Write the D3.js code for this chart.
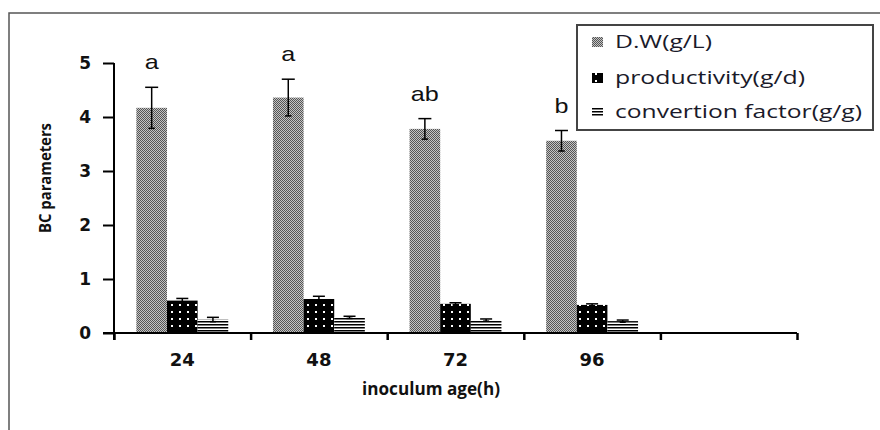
<!DOCTYPE html>
<html>
<head>
<meta charset="utf-8">
<script src="https://cdn.jsdelivr.net/npm/d3@7"></script>
<style>
  body { margin: 0; background: #fff; }
  svg { display: block; }
</style>
</head>
<body>
<div id="chart"></div>
<script>
// inoculum age groups (a 5th empty slot sits on the axis)
const categories = ["24", "48", "72", "96"];
const seriesNames = ["D.W(g/L)", "productivity(g/d)", "convertion factor(g/g)"];

// values
const dwValues = [4.17, 4.36, 3.78, 3.56];
const dwErrors = [0.38, 0.34, 0.19, 0.19];
const prodValues = [0.6, 0.63, 0.54, 0.52];
const prodErrors = [0.04, 0.05, 0.02, 0.02];
const convValues = [0.25, 0.29, 0.24, 0.22];
const convErrors = [0.04, 0.02, 0.02, 0.02];

// significance letters over the D.W bars
const sigLetters = ["a", "a", "ab", "b"];

const yTicks = [0, 1, 2, 3, 4, 5];

const W = 880, H = 430;
const plot = { left: 114, right: 797, top: 63, bottom: 333 };

const svg = d3.select("#chart").append("svg")
    .attr("width", W)
    .attr("height", H);

// fill patterns
const defs = svg.append("defs");

const pDW = defs.append("pattern")
    .attr("id", "pat-dw")
    .attr("patternUnits", "userSpaceOnUse")
    .attr("width", 2).attr("height", 2);
pDW.append("rect").attr("width", 2).attr("height", 2).attr("fill", "#c4c4c4");
pDW.append("rect").attr("width", 1).attr("height", 1).attr("fill", "#555");
pDW.append("rect").attr("x", 1).attr("y", 1).attr("width", 1).attr("height", 1).attr("fill", "#555");

const pProd = defs.append("pattern")
    .attr("id", "pat-prod")
    .attr("patternUnits", "userSpaceOnUse")
    .attr("width", 8).attr("height", 7);
pProd.append("rect").attr("width", 8).attr("height", 7).attr("fill", "#000");
pProd.append("rect").attr("x", 3).attr("y", 3).attr("width", 2).attr("height", 2).attr("fill", "#fff");

const pConv = defs.append("pattern")
    .attr("id", "pat-conv")
    .attr("patternUnits", "userSpaceOnUse")
    .attr("width", 4).attr("height", 3);
pConv.append("rect").attr("width", 4).attr("height", 3).attr("fill", "#fff");
pConv.append("rect").attr("width", 4).attr("height", 1.5).attr("fill", "#000");

const fills = ["url(#pat-dw)", "url(#pat-prod)", "url(#pat-conv)"];

// outer frame (runs past the right and bottom edges)
svg.append("rect")
    .attr("x", 9).attr("y", 13)
    .attr("width", 900).attr("height", 500)
    .attr("fill", "none")
    .attr("stroke", "#555")
    .attr("stroke-width", 1.5);

// scales
const slots = categories.concat([" "]);
const x0 = d3.scaleBand()
    .domain(slots)
    .range([plot.left, plot.right])
    .paddingInner(0)
    .paddingOuter(0);

const x1 = d3.scaleBand()
    .domain(seriesNames)
    .range([0, x0.bandwidth()])
    .paddingInner(0)
    .paddingOuter(0.73);

const y = d3.scaleLinear()
    .domain([0, 5])
    .range([plot.bottom, plot.top]);

// rows for drawing
const series = [
    { name: seriesNames[0], values: dwValues, errors: dwErrors },
    { name: seriesNames[1], values: prodValues, errors: prodErrors },
    { name: seriesNames[2], values: convValues, errors: convErrors }
];

const barData = [];
categories.forEach((c, i) => {
    series.forEach((s, j) => {
        barData.push({ cat: c, name: s.name, value: s.values[i], err: s.errors[i], k: j });
    });
});

// bars
svg.append("g").selectAll("rect")
    .data(barData)
    .enter()
    .append("rect")
    .attr("x", d => x0(d.cat) + x1(d.name))
    .attr("y", d => y(d.value))
    .attr("width", x1.bandwidth())
    .attr("height", d => y(0) - y(d.value))
    .attr("fill", d => fills[d.k]);

// error bars
const eb = svg.append("g")
    .attr("stroke", "#000")
    .attr("stroke-width", 1.5);

barData.forEach(d => {
    const cx = x0(d.cat) + x1(d.name) + x1.bandwidth() / 2;
    const cap = d.k === 0 ? 6.5 : 6;
    eb.append("line")
        .attr("x1", cx).attr("x2", cx)
        .attr("y1", y(d.value + d.err)).attr("y2", y(d.value - d.err));
    eb.append("line")
        .attr("x1", cx - cap).attr("x2", cx + cap)
        .attr("y1", y(d.value + d.err)).attr("y2", y(d.value + d.err));
    eb.append("line")
        .attr("x1", cx - cap / 2).attr("x2", cx + cap / 2)
        .attr("y1", y(d.value - d.err)).attr("y2", y(d.value - d.err));
});

// significance letters
svg.append("g").selectAll("text")
    .data(categories)
    .enter()
    .append("text")
    .attr("x", (d, i) => x0(d) + x1(seriesNames[0]) + x1.bandwidth() / 2)
    .attr("y", (d, i) => y(dwValues[i] + dwErrors[i]) - 18)
    .attr("text-anchor", "middle")
    .attr("textLength", (d, i) => sigLetters[i].length * 14)
    .attr("lengthAdjust", "spacingAndGlyphs")
    .style("font-family", "Liberation Sans, Arial, sans-serif")
    .style("font-size", "21px")
    .style("fill", "#111")
    .text((d, i) => sigLetters[i]);

// y axis
const yAxis = svg.append("g")
    .attr("transform", "translate(" + plot.left + ",0)")
    .call(d3.axisLeft(y).tickValues(yTicks).tickFormat(d3.format("d"))
        .tickSize(11).tickPadding(12).tickSizeOuter(0));
yAxis.select(".domain").attr("stroke", "#000").attr("stroke-width", 2)
    .attr("d", "M0," + y(5) + "V" + (y(0) + 7));
yAxis.selectAll(".tick line").attr("stroke", "#000").attr("stroke-width", 2);
yAxis.selectAll(".tick text")
    .style("font-family", "DejaVu Sans, sans-serif")
    .style("font-weight", "bold")
    .style("font-size", "17px")
    .style("fill", "#111");

// x axis: boundary ticks
const xEdge = d3.scaleLinear().domain([0, slots.length]).range([plot.left, plot.right]);
const xAxis = svg.append("g")
    .attr("transform", "translate(0," + plot.bottom + ")")
    .call(d3.axisBottom(xEdge).tickValues(d3.range(0, slots.length + 1)).tickSize(7).tickFormat("").tickSizeOuter(0));
xAxis.select(".domain").attr("stroke", "#000").attr("stroke-width", 2)
    .attr("d", "M" + (plot.left - 11) + ",0H" + plot.right);
xAxis.selectAll(".tick line").attr("stroke", "#000").attr("stroke-width", 2.5);

// x axis: category labels
const xLab = svg.append("g")
    .attr("transform", "translate(0," + plot.bottom + ")")
    .call(d3.axisBottom(x0).tickValues(categories).tickSize(0).tickPadding(20));
xLab.select(".domain").remove();
xLab.selectAll(".tick text")
    .style("font-family", "DejaVu Sans, sans-serif")
    .style("font-weight", "bold")
    .style("font-size", "18px")
    .style("fill", "#111");

// axis titles
svg.append("text")
    .attr("x", 431)
    .attr("y", 395)
    .attr("text-anchor", "middle")
    .attr("textLength", 138)
    .attr("lengthAdjust", "spacingAndGlyphs")
    .style("font-family", "Open Sans, sans-serif")
    .style("font-weight", "bold")
    .style("font-size", "17px")
    .style("fill", "#111")
    .text("inoculum age(h)");

svg.append("text")
    .attr("transform", "translate(51,178) rotate(-90)")
    .attr("text-anchor", "middle")
    .attr("textLength", 110)
    .attr("lengthAdjust", "spacingAndGlyphs")
    .style("font-family", "Open Sans, sans-serif")
    .style("font-weight", "bold")
    .style("font-size", "16px")
    .style("fill", "#111")
    .text("BC parameters");

// legend
const legend = svg.append("g");
legend.append("rect")
    .attr("x", 577).attr("y", 25)
    .attr("width", 296).attr("height", 105)
    .attr("fill", "#fff")
    .attr("stroke", "#444")
    .attr("stroke-width", 2);

const legendRows = [42, 78, 112];
const legendLens = [97, 190, 247];

legend.selectAll(".legend-rect")
    .data(seriesNames)
    .enter()
    .append("rect")
    .attr("class", "legend-rect")
    .attr("x", 592)
    .attr("y", (d, i) => legendRows[i] - 5)
    .attr("width", 11)
    .attr("height", 10)
    .attr("fill", (d, i) => fills[i]);

legend.selectAll(".legend-text")
    .data(seriesNames)
    .enter()
    .append("text")
    .attr("class", "legend-text")
    .attr("x", 615)
    .attr("y", (d, i) => legendRows[i] + 6)
    .attr("textLength", (d, i) => legendLens[i])
    .attr("lengthAdjust", "spacingAndGlyphs")
    .style("font-family", "Open Sans, sans-serif")
    .style("font-size", "18px")
    .style("fill", "#1a1a2a")
    .text(d => d);
</script>
</body>
</html>
